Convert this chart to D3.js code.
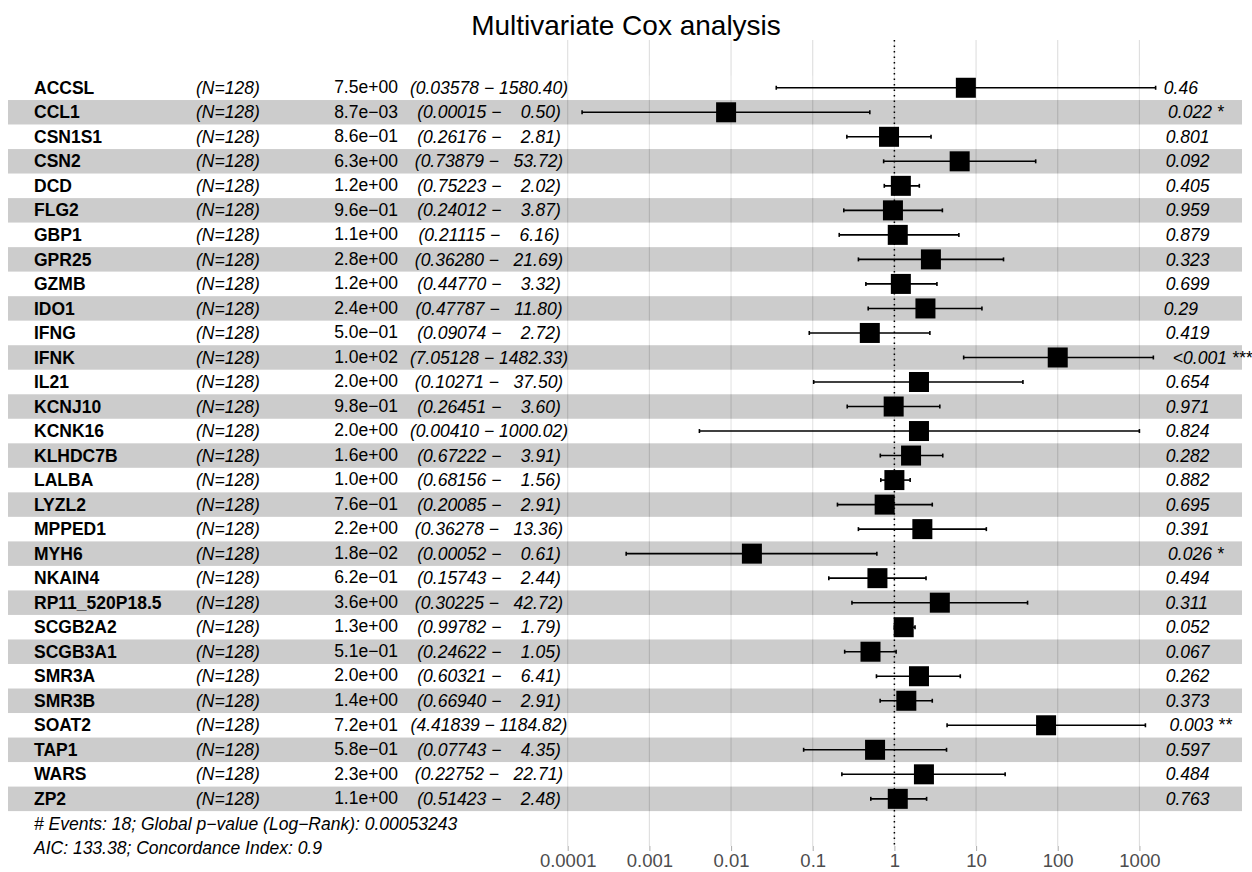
<!DOCTYPE html>
<html>
<head>
<meta charset="utf-8">
<script src="https://cdnjs.cloudflare.com/ajax/libs/d3/7.8.5/d3.min.js"></script>
<style>
  body { margin: 0; background: #fff; }
  text { font-family: "Liberation Sans", Arial, Helvetica, sans-serif; }
  .pre { white-space: pre; }
</style>
</head>
<body>
<div id="forest"></div>
<script>
// chart data
var genes = ["ACCSL", "CCL1", "CSN1S1", "CSN2", "DCD", "FLG2", "GBP1", "GPR25", "GZMB", "IDO1",
  "IFNG", "IFNK", "IL21", "KCNJ10", "KCNK16", "KLHDC7B", "LALBA", "LYZL2", "MPPED1", "MYH6",
  "NKAIN4", "RP11_520P18.5", "SCGB2A2", "SCGB3A1", "SMR3A", "SMR3B", "SOAT2", "TAP1", "WARS", "ZP2"];
var nPatients = [128, 128, 128, 128, 128, 128, 128, 128, 128, 128,
  128, 128, 128, 128, 128, 128, 128, 128, 128, 128,
  128, 128, 128, 128, 128, 128, 128, 128, 128, 128];
var hazardRatio = [7.5, 0.0087, 0.86, 6.3, 1.2, 0.96, 1.1, 2.8, 1.2, 2.4,
  0.50, 100, 2.0, 0.98, 2.0, 1.6, 1.0, 0.76, 2.2, 0.018,
  0.62, 3.6, 1.3, 0.51, 2.0, 1.4, 72, 0.58, 2.3, 1.1];
var ciLow = [0.03578, 0.00015, 0.26176, 0.73879, 0.75223, 0.24012, 0.21115, 0.36280, 0.44770, 0.47787,
  0.09074, 7.05128, 0.10271, 0.26451, 0.00410, 0.67222, 0.68156, 0.20085, 0.36278, 0.00052,
  0.15743, 0.30225, 0.99782, 0.24622, 0.60321, 0.66940, 4.41839, 0.07743, 0.22752, 0.51423];
var ciHigh = [1580.40, 0.50, 2.81, 53.72, 2.02, 3.87, 6.16, 21.69, 3.32, 11.80,
  2.72, 1482.33, 37.50, 3.60, 1000.02, 3.91, 1.56, 2.91, 13.36, 0.61,
  2.44, 42.72, 1.79, 1.05, 6.41, 2.91, 1184.82, 4.35, 22.71, 2.48];
var pValues = ["0.46", "0.022", "0.801", "0.092", "0.405", "0.959", "0.879", "0.323", "0.699", "0.29",
  "0.419", "<0.001", "0.654", "0.971", "0.824", "0.282", "0.882", "0.695", "0.391", "0.026",
  "0.494", "0.311", "0.052", "0.067", "0.262", "0.373", "0.003", "0.597", "0.484", "0.763"];
var stars = ["", "*", "", "", "", "", "", "", "", "",
  "", "***", "", "", "", "", "", "", "", "*",
  "", "", "", "", "", "", "**", "", "", ""];
var axisTicks = [0.0001, 0.001, 0.01, 0.1, 1, 10, 100, 1000];
var tickLabels = ["0.0001", "0.001", "0.01", "0.1", "1", "10", "100", "1000"];
var chartTitle = "Multivariate Cox analysis";
var footLines = ["# Events: 18; Global p\u2212value (Log\u2212Rank): 0.00053243",
  "AIC: 133.38; Concordance Index: 0.9"];

var svgWidth = 1252;
var svgHeight = 872;

var panelTop = 40;
var panelBottom = 846;
var fontSize = 17.5;

var svg = d3.select("#forest")
  .append("svg")
  .attr("width", svgWidth)
  .attr("height", svgHeight);

var rows = genes.map(function(g, i) {
  return {
    gene: g, n: nPatients[i], hr: hazardRatio[i], low: ciLow[i], high: ciHigh[i],
    p: pValues[i], stars: stars[i], idx: i
  };
});

// scales: log for hazard ratio, band for the rows
var xScale = d3.scaleLog()
  .domain([0.0001, 1000])
  .range([567.7, 1139.4]);

var yScale = d3.scaleBand()
  .domain(genes)
  .range([75.5, 811.1])
  .padding(0);

var yMid = function(d) { return yScale(d.gene) + yScale.bandwidth() / 2; };

// 7.5e+00 style labels with a real minus sign
function sciLabel(v) {
  var parts = v.toExponential(1).split("e");
  var ex = +parts[1];
  var sign = ex < 0 ? "\u2212" : "+";
  return parts[0] + "e" + sign + String(Math.abs(ex)).padStart(2, "0");
}

function ciLabel(d) {
  return "(" + d.low.toFixed(5) + " \u2212 " + d.high.toFixed(2).padStart(7, " ") + ")";
}

// vertical grid lines
svg.append("g")
  .selectAll("line")
  .data(axisTicks)
  .enter()
  .append("line")
  .attr("x1", d => xScale(d))
  .attr("x2", d => xScale(d))
  .attr("y1", panelTop)
  .attr("y2", panelBottom)
  .attr("stroke", "#dedede")
  .attr("stroke-width", 1.1);

// alternating row bands (translucent, like the ggforest fill)
svg.append("g")
  .selectAll("rect")
  .data(rows)
  .enter()
  .append("rect")
  .attr("x", 8)
  .attr("width", 1234)
  .attr("y", d => yScale(d.gene))
  .attr("height", yScale.bandwidth())
  .attr("fill", d => d.idx % 2 === 1 ? "rgba(0,0,0,0.2)" : "rgba(255,255,255,0.2)");

// reference line at HR = 1
svg.append("line")
  .attr("x1", xScale(1))
  .attr("x2", xScale(1))
  .attr("y1", panelTop)
  .attr("y2", panelBottom)
  .attr("stroke", "#000")
  .attr("stroke-width", 1.5)
  .attr("stroke-dasharray", "1.5,4");

// error bars
var bars = svg.append("g")
  .selectAll("g")
  .data(rows)
  .enter()
  .append("g")
  .attr("stroke", "#000")
  .attr("stroke-width", 1.6);

bars.append("line")
  .attr("x1", d => xScale(d.low))
  .attr("x2", d => xScale(d.high))
  .attr("y1", yMid)
  .attr("y2", yMid);

bars.append("line")
  .attr("x1", d => xScale(d.low))
  .attr("x2", d => xScale(d.low))
  .attr("y1", d => yMid(d) - 2)
  .attr("y2", d => yMid(d) + 2);

bars.append("line")
  .attr("x1", d => xScale(d.high))
  .attr("x2", d => xScale(d.high))
  .attr("y1", d => yMid(d) - 2)
  .attr("y2", d => yMid(d) + 2);

// hazard ratio squares
var boxSize = 20;
svg.append("g")
  .selectAll("rect")
  .data(rows)
  .enter()
  .append("rect")
  .attr("x", d => xScale(d.hr) - boxSize / 2)
  .attr("y", d => yMid(d) - boxSize / 2)
  .attr("width", boxSize)
  .attr("height", boxSize)
  .attr("fill", "#000");

// text columns
var labels = svg.append("g")
  .attr("font-size", fontSize)
  .attr("fill", "#000");

labels.selectAll(".gene")
  .data(rows)
  .enter()
  .append("text")
  .attr("class", "gene")
  .attr("x", 34)
  .attr("y", yMid)
  .attr("dy", "0.35em")
  .attr("font-weight", "bold")
  .text(d => d.gene);

labels.selectAll(".nlab")
  .data(rows)
  .enter()
  .append("text")
  .attr("class", "nlab")
  .attr("x", 196)
  .attr("y", yMid)
  .attr("dy", "0.35em")
  .attr("font-style", "italic")
  .text(d => "(N=" + d.n + ")");

labels.selectAll(".est")
  .data(rows)
  .enter()
  .append("text")
  .attr("class", "est")
  .attr("x", 366)
  .attr("y", yMid)
  .attr("dy", "0.3em")
  .attr("text-anchor", "middle")
  .text(d => sciLabel(d.hr));

labels.selectAll(".ci")
  .data(rows)
  .enter()
  .append("text")
  .attr("class", "ci pre")
  .attr("x", 489)
  .attr("y", yMid)
  .attr("dy", "0.35em")
  .attr("text-anchor", "middle")
  .attr("font-style", "italic")
  .text(d => ciLabel(d));

// p-values, nudged right by a fifth of their width (hjust = -0.2)
labels.selectAll(".pval")
  .data(rows)
  .enter()
  .append("text")
  .attr("class", "pval pre")
  .attr("y", yMid)
  .attr("dy", "0.35em")
  .attr("font-style", "italic")
  .text(d => d.stars ? d.p + " " + d.stars : d.p)
  .attr("x", function() { return 1157 + 0.2 * this.getComputedTextLength(); });

// model summary under the rows
labels.selectAll(".foot")
  .data(footLines)
  .enter()
  .append("text")
  .attr("class", "foot")
  .attr("x", 34)
  .attr("y", (d, i) => 830 + i * 24)
  .attr("font-style", "italic")
  .text(d => d);

// x axis
var xAxis = d3.axisBottom(xScale)
  .tickValues(axisTicks)
  .tickFormat((d, i) => tickLabels[i])
  .tickSize(5);

var axisG = svg.append("g")
  .attr("transform", `translate(0, ${panelBottom})`)
  .call(xAxis);

axisG.select(".domain").remove();
axisG.selectAll(".tick line").attr("stroke", "#b3b3b3").attr("stroke-width", 1.1);
axisG.selectAll(".tick text")
  .attr("y", 21)
  .attr("dy", 0)
  .attr("fill", "#4d4d4d")
  .attr("font-size", 18.5)
  .attr("font-family", "'Liberation Sans', Arial, sans-serif");

// title
svg.append("text")
  .attr("x", 626)
  .attr("y", 35)
  .attr("text-anchor", "middle")
  .attr("font-size", 28)
  .text(chartTitle);
</script>
</body>
</html>
